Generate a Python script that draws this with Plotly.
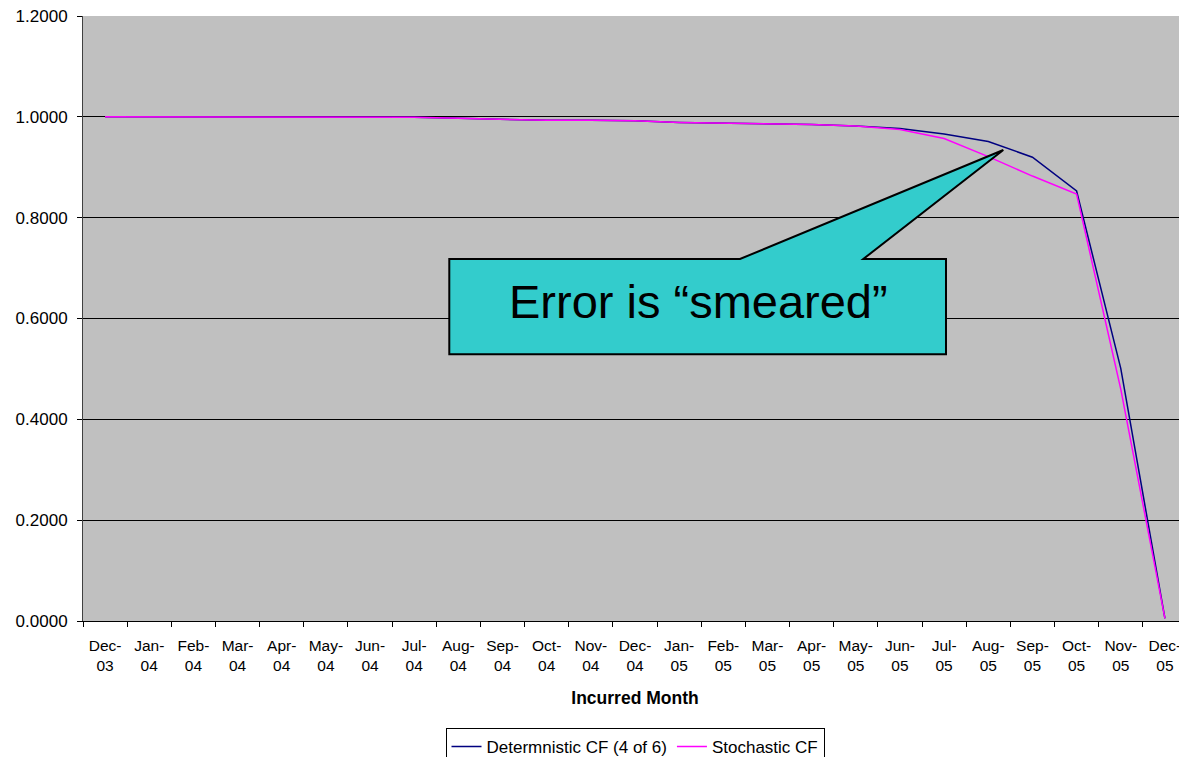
import plotly.graph_objects as go

# ---- data ----
months = ["Dec-03", "Jan-04", "Feb-04", "Mar-04", "Apr-04", "May-04", "Jun-04",
          "Jul-04", "Aug-04", "Sep-04", "Oct-04", "Nov-04", "Dec-04",
          "Jan-05", "Feb-05", "Mar-05", "Apr-05", "May-05", "Jun-05",
          "Jul-05", "Aug-05", "Sep-05", "Oct-05", "Nov-05", "Dec-05"]
tick_text = [m.replace("-", "-<br>") for m in months]

deterministic_cf = [1.000, 1.000, 1.000, 1.000, 1.000, 1.000, 1.000,
                    0.999, 0.997, 0.995, 0.993, 0.993, 0.992,
                    0.989, 0.988, 0.986, 0.985, 0.982, 0.977,
                    0.966, 0.951, 0.920, 0.853, 0.501, 0.005]
stochastic_cf = [1.000, 1.000, 1.000, 1.000, 1.000, 1.000, 1.000,
                 0.999, 0.997, 0.995, 0.993, 0.993, 0.992,
                 0.989, 0.988, 0.986, 0.985, 0.982, 0.975,
                 0.957, 0.921, 0.8825, 0.847, 0.460, 0.005]

OFF = 8  # page body margin
W, H = 1187 - OFF, 757 - OFF
ML, MR, MT, MB = 75, 0, 8, 136
PW, PH = W - ML - MR, H - MT - MB


def px(x):
    return (x - OFF - ML) / PW


def py(y):
    return (H - MB - (y - OFF)) / PH


fig = go.Figure()
fig.add_trace(go.Scatter(x=months, y=deterministic_cf, mode="lines",
                         name="Determnistic CF (4 of 6)",
                         line=dict(color="#000080", width=1.5)))
fig.add_trace(go.Scatter(x=months, y=stochastic_cf, mode="lines",
                         name="Stochastic CF",
                         line=dict(color="#FF00FF", width=1.5)))

# callout shape
pts = [(449.3, 259), (740, 259), (1003.3, 150), (863.3, 259), (946, 259),
       (946, 354.3), (449.3, 354.3)]
path = "M " + " L ".join(f"{px(a):.5f},{py(b):.5f}" for a, b in pts) + " Z"
fig.add_shape(type="path", path=path, xref="paper", yref="paper",
              fillcolor="#33CCCC", line=dict(color="black", width=2))
fig.add_annotation(x=px(698), y=py(301), xref="paper", yref="paper",
                   text="Error is “smeared”", showarrow=False,
                   font=dict(size=47, color="black", family="Liberation Sans, Arial"),
                   xanchor="center", yanchor="middle")

fig.update_layout(
    width=W, height=H,
    margin=dict(l=ML, r=MR, t=MT, b=MB, autoexpand=False),
    paper_bgcolor="white", plot_bgcolor="#C0C0C0",
    font=dict(family="Liberation Sans, Arial", size=16, color="black"),
    showlegend=True,
    legend=dict(orientation="h", x=0.5, xanchor="center",
                yref="container", y=1 - (728 - OFF) / H, yanchor="top",
                bordercolor="black", borderwidth=1, bgcolor="white",
                font=dict(size=17), itemwidth=30, tracegroupgap=0),
)
fig.update_xaxes(type="category", tickmode="array", tickvals=months, ticktext=tick_text,
                 tickson="boundaries", ticks="outside", ticklen=5, tickcolor="black",
                 showgrid=False, showline=True, linecolor="black", linewidth=1,
                 tickfont=dict(size=15.5), tickangle=0, range=[-0.5, 24.5],
                 ticklabelstandoff=10, ticklabeloverflow="allow", automargin=False,
                 title=dict(text="<b>Incurred Month</b>", font=dict(size=17.5), standoff=18))
fig.update_yaxes(range=[0, 1.2], dtick=0.2, tickformat=".4f", ticks="outside",
                 ticklen=5, tickcolor="black", showgrid=True, gridcolor="black",
                 gridwidth=1, showline=True, linecolor="#404040", linewidth=1,
                 zeroline=False, tickfont=dict(size=17), ticklabelstandoff=6,
                 ticklabeloverflow="allow", automargin=False)

fig.write_html("out.html")
